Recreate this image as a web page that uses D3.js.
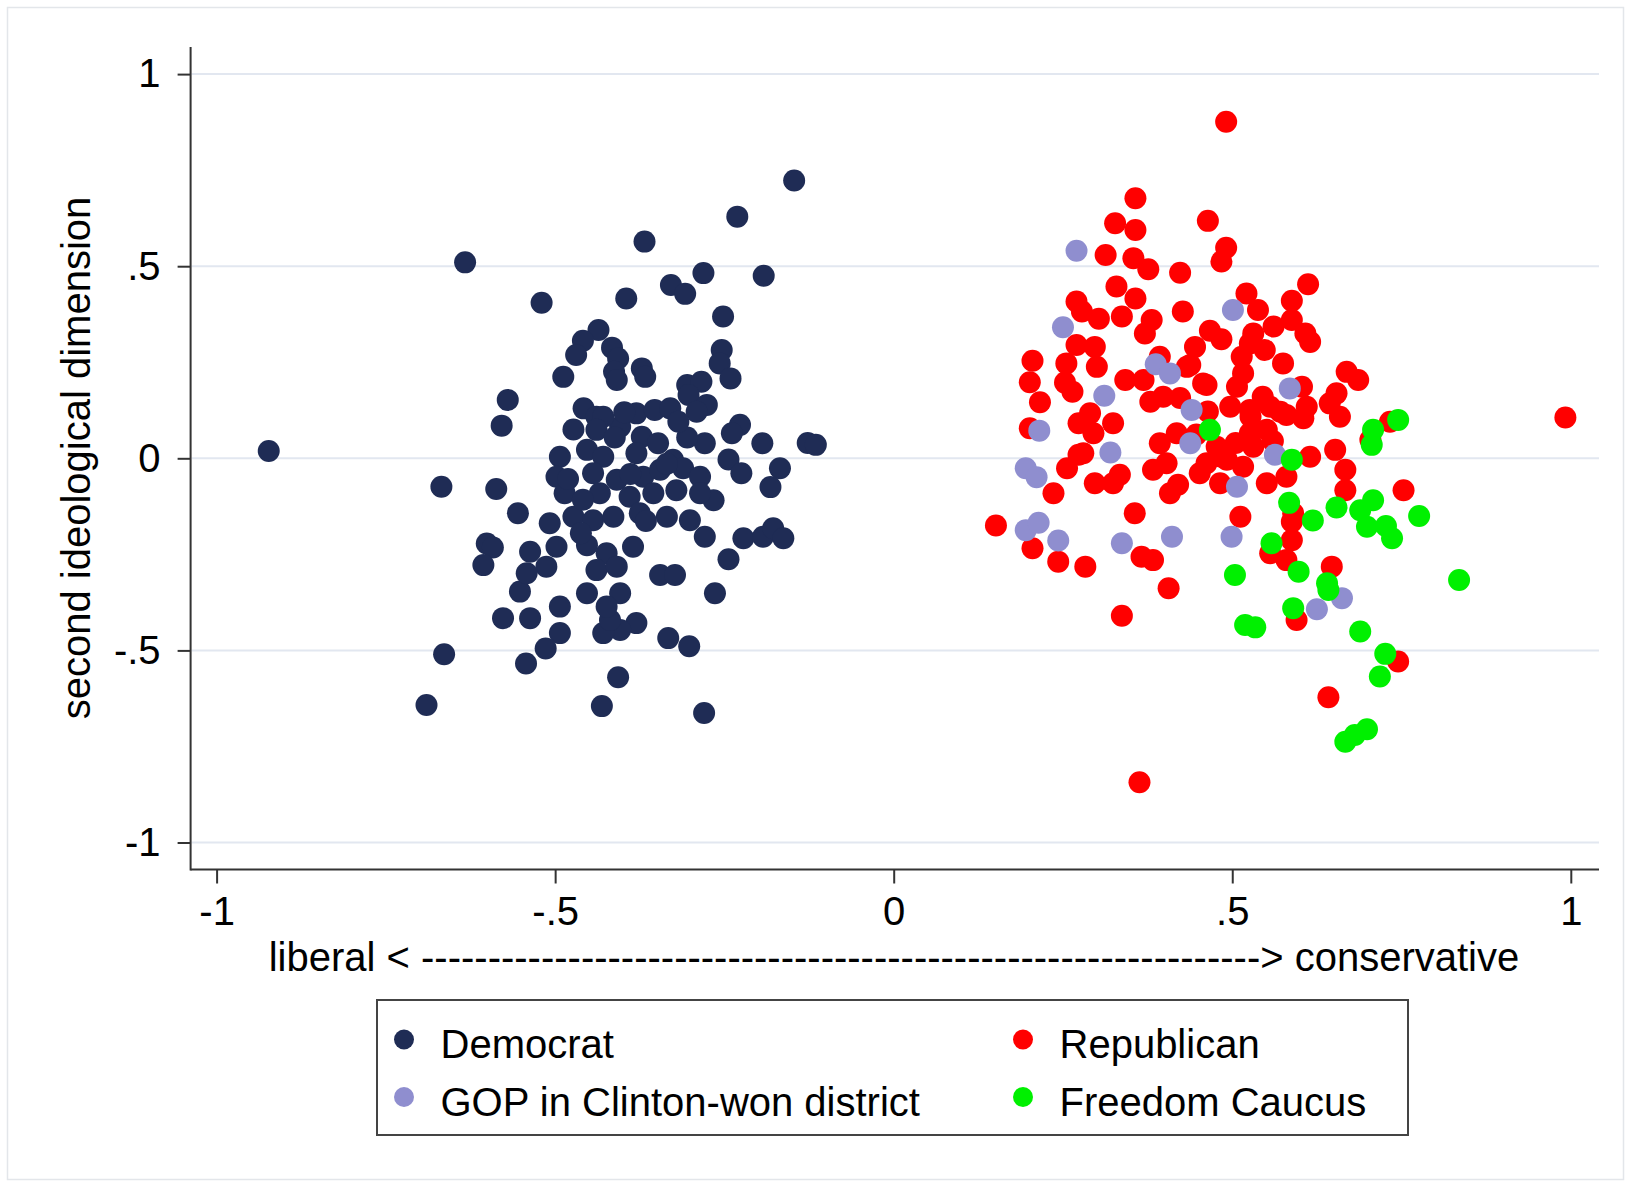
<!DOCTYPE html>
<html>
<head>
<meta charset="utf-8">
<script src="https://cdn.jsdelivr.net/npm/d3@7"></script>
<style>
body { margin: 0; background: #fff; }
text { font-family: "Liberation Sans", Arial, Helvetica, sans-serif; fill: #000; }
</style>
</head>
<body>
<div class="chart"></div>
<script>
// [first dimension, second dimension]
var democrat = [
  [-0.923,0.019],[-0.633,0.510],[-0.520,0.405],[-0.436,0.334],[-0.395,0.416],[-0.459,0.306],[-0.469,0.269],
  [-0.416,0.288],[-0.407,0.260],[-0.413,0.225],[-0.488,0.212],[-0.570,0.152],[-0.579,0.085],[-0.458,0.130],
  [-0.439,0.108],[-0.473,0.075],[-0.404,0.082],[-0.147,0.723],[-0.231,0.629],[-0.368,0.564],[-0.281,0.482],
  [-0.192,0.475],[-0.329,0.451],[-0.308,0.428],[-0.252,0.369],[-0.372,0.234],[-0.367,0.212],[-0.254,0.282],
  [-0.257,0.247],[-0.241,0.208],[-0.305,0.191],[-0.284,0.199],[-0.303,0.165],[-0.276,0.139],[-0.291,0.121],
  [-0.380,0.117],[-0.353,0.126],[-0.330,0.130],[-0.429,0.108],[-0.372,0.056],[-0.348,0.039],[-0.227,0.087],
  [-0.239,0.065],[-0.279,0.039],[-0.194,0.039],[-0.127,0.040],[-0.244,-0.003],[-0.225,-0.039],[-0.168,-0.026],
  [-0.182,-0.075],[-0.279,-0.204],[-0.222,-0.208],[-0.193,-0.204],[-0.178,-0.182],[-0.163,-0.208],[-0.244,-0.263],
  [-0.345,-0.304],[-0.323,-0.304],[-0.264,-0.351],[-0.385,-0.230],[-0.404,-0.351],[-0.380,-0.429],[-0.404,-0.447],
  [-0.429,-0.455],[-0.419,-0.421],[-0.333,-0.468],[-0.302,-0.489],[-0.407,-0.570],[-0.431,-0.645],[-0.280,-0.663],
  [-0.668,-0.074],[-0.587,-0.080],[-0.555,-0.143],[-0.601,-0.222],[-0.592,-0.232],[-0.606,-0.278],[-0.537,-0.243],
  [-0.508,-0.169],[-0.552,-0.347],[-0.577,-0.416],[-0.537,-0.416],[-0.493,-0.386],[-0.493,-0.455],[-0.514,-0.495],
  [-0.543,-0.534],[-0.664,-0.510],[-0.690,-0.642],[-0.453,-0.351],[-0.453,-0.226],[-0.493,0.004],[-0.498,-0.048],
  [-0.486,-0.091],[-0.115,0.035],[-0.409,0.204],[-0.439,0.074],[-0.453,0.022],[-0.429,0.004],[-0.380,0.013],
  [-0.326,-0.004],[-0.444,-0.039],[-0.409,-0.056],[-0.370,-0.048],[-0.345,-0.030],[-0.311,-0.026],[-0.286,-0.048],
  [-0.434,-0.091],[-0.390,-0.100],[-0.355,-0.091],[-0.321,-0.083],[-0.266,-0.109],[-0.286,-0.091],[-0.473,-0.152],
  [-0.444,-0.161],[-0.414,-0.152],[-0.375,-0.143],[-0.335,-0.152],[-0.301,-0.161],[-0.498,-0.230],[-0.424,-0.247],
  [-0.513,-0.282],[-0.542,-0.299],[-0.439,-0.291],[-0.409,-0.282],[-0.424,-0.386],
  [-0.412,0.054],[-0.335,-0.014],[-0.459,-0.108],[-0.366,-0.163],[-0.389,-0.041],[-0.305,0.054],[-0.481,-0.054],
  [-0.398,0.120],[-0.318,0.095],[-0.462,-0.195]
];

var republican = [
  [0.357,0.677],[0.327,0.612],[0.357,0.594],[0.313,0.529],[0.354,0.521],[0.376,0.492],[0.423,0.483],[0.329,0.447],
  [0.357,0.416],[0.270,0.408],[0.278,0.382],[0.303,0.363],[0.337,0.369],[0.381,0.360],[0.371,0.325],[0.427,0.382],
  [0.270,0.295],[0.297,0.290],[0.255,0.247],[0.300,0.238],[0.205,0.254],[0.201,0.198],[0.253,0.197],[0.264,0.173],
  [0.216,0.146],[0.342,0.204],[0.369,0.204],[0.393,0.264],[0.379,0.147],[0.423,0.157],[0.201,0.078],[0.273,0.091],
  [0.290,0.117],[0.324,0.091],[0.295,0.065],[0.491,0.876],[0.464,0.618],[0.491,0.548],[0.484,0.512],[0.612,0.453],
  [0.521,0.429],[0.588,0.410],[0.538,0.386],[0.467,0.332],[0.484,0.310],[0.531,0.325],[0.561,0.343],[0.588,0.360],
  [0.608,0.325],[0.615,0.303],[0.526,0.299],[0.548,0.282],[0.445,0.290],[0.514,0.264],[0.575,0.247],[0.433,0.238],
  [0.457,0.195],[0.516,0.221],[0.507,0.186],[0.669,0.225],[0.686,0.204],[0.654,0.169],[0.644,0.143],[0.659,0.108],
  [0.603,0.186],[0.610,0.134],[0.605,0.104],[0.497,0.134],[0.526,0.126],[0.556,0.134],[0.580,0.113],[0.526,0.065],
  [0.551,0.074],[0.418,0.065],[0.733,0.095],[0.438,0.243],[0.398,0.160],[0.462,0.191],[0.571,0.121],[0.393,0.039],
  [0.477,0.030],[0.492,-0.004],[0.531,0.030],[0.280,0.013],[0.383,-0.030],[0.403,-0.013],[0.334,-0.043],[0.297,-0.065],
  [0.324,-0.065],[0.408,-0.091],[0.420,-0.069],[0.452,-0.039],[0.482,-0.065],[0.462,-0.013],[0.516,-0.022],[0.551,-0.065],
  [0.580,-0.048],[0.356,-0.143],[0.512,-0.152],[0.590,-0.143],[0.273,0.009],[0.256,-0.026],[0.236,-0.091],[0.151,-0.175],
  [0.205,-0.234],[0.243,-0.269],[0.283,-0.282],[0.366,-0.256],[0.383,-0.265],[0.406,-0.338],[0.337,-0.410],[0.652,0.022],
  [0.615,0.004],[0.667,-0.030],[0.667,-0.083],[0.753,-0.083],[0.588,-0.165],[0.588,-0.213],[0.556,-0.247],[0.580,-0.265],
  [0.647,-0.282],[0.595,-0.421],[0.745,-0.529],[0.642,-0.622],[0.704,0.048],[0.992,0.106],[0.363,-0.843],[0.484,0.004],
  [0.527,0.108],[0.464,0.122],[0.545,0.160],[0.447,0.062],[0.505,0.040],[0.560,0.045]
];

var gopClinton = [
  [0.270,0.540],[0.250,0.341],[0.387,0.245],[0.408,0.221],[0.311,0.163],[0.215,0.072],[0.501,0.386],[0.585,0.182],
  [0.440,0.126],[0.438,0.039],[0.320,0.015],[0.563,0.009],[0.507,-0.074],[0.195,-0.026],[0.211,-0.049],[0.195,-0.187],
  [0.214,-0.168],[0.243,-0.214],[0.337,-0.221],[0.411,-0.204],[0.499,-0.204],[0.625,-0.393],[0.662,-0.364]
];

var freedomCaucus = [
  [0.467,0.074],[0.708,0.074],[0.745,0.100],[0.706,0.035],[0.588,-0.004],[0.584,-0.116],[0.619,-0.162],[0.654,-0.128],
  [0.689,-0.135],[0.708,-0.109],[0.699,-0.178],[0.727,-0.176],[0.736,-0.208],[0.776,-0.150],[0.558,-0.221],[0.598,-0.295],
  [0.640,-0.325],[0.642,-0.343],[0.504,-0.304],[0.590,-0.390],[0.519,-0.434],[0.534,-0.440],[0.689,-0.451],[0.726,-0.509],
  [0.718,-0.568],[0.667,-0.738],[0.681,-0.720],[0.699,-0.705],[0.835,-0.317]
];

var groupNames = ["Democrat", "Republican", "GOP in Clinton-won district", "Freedom Caucus"];
var groupColors = ["#1f2c55", "#ff0000", "#8f8ecf", "#00f000"];

var xTicks = [-1, -0.5, 0, 0.5, 1];
var xTickLabels = ["-1", "-.5", "0", ".5", "1"];
var yTicks = [1, 0.5, 0, -0.5, -1];
var yTickLabels = ["1", ".5", "0", "-.5", "-1"];

var xTitle = "liberal < " + "-".repeat(63) + "> conservative";
var yTitle = "second ideological dimension";

var width = 1631;
var height = 1185;

var plotLeft = 190.6, plotRight = 1599, plotTop = 47, plotBottom = 869.5;

var svg = d3.select("div.chart")
  .append("svg")
  .attr("width", width)
  .attr("height", height);

// faint frame round the whole graph
svg.append("rect")
  .attr("x", 7.5).attr("y", 7.5)
  .attr("width", 1616).attr("height", 1172)
  .attr("fill", "none")
  .attr("stroke", "#e3e6ea")
  .attr("stroke-width", 1.5);

var x = d3.scaleLinear().domain([-1, 1]).range([216.6, 1570.8]);
var y = d3.scaleLinear().domain([-1, 1]).range([842.5, 74.1]);

// gridlines
svg.append("g").selectAll("line")
  .data(yTicks)
  .enter()
  .append("line")
  .attr("x1", plotLeft + 1).attr("x2", plotRight)
  .attr("y1", (d) => y(d)).attr("y2", (d) => y(d))
  .attr("stroke", "#e2e7f0")
  .attr("stroke-width", 2);

// axes
var yAxis = svg.append("g")
  .attr("transform", "translate(" + plotLeft + ",0)")
  .call(d3.axisLeft(y)
    .tickValues(yTicks)
    .tickFormat((d, i) => yTickLabels[i])
    .tickSize(13)
    .tickPadding(17));

var xAxis = svg.append("g")
  .attr("transform", "translate(0," + plotBottom + ")")
  .call(d3.axisBottom(x)
    .tickValues(xTicks)
    .tickFormat((d, i) => xTickLabels[i])
    .tickSize(14)
    .tickPadding(13));

[yAxis, xAxis].forEach((g) => {
  g.select(".domain").remove();
  g.selectAll(".tick line").attr("stroke", "#333").attr("stroke-width", 2);
  g.selectAll(".tick text")
    .attr("fill", "#000")
    .style("font-size", "40px")
    .style("font-family", "'Liberation Sans', Arial, sans-serif");
});

svg.append("line")
  .attr("x1", plotLeft).attr("x2", plotLeft)
  .attr("y1", plotTop).attr("y2", plotBottom + 1)
  .attr("stroke", "#333").attr("stroke-width", 2);

svg.append("line")
  .attr("x1", plotLeft).attr("x2", plotRight)
  .attr("y1", plotBottom).attr("y2", plotBottom)
  .attr("stroke", "#333").attr("stroke-width", 2);

// axis titles
svg.append("text")
  .attr("x", 894)
  .attr("y", 971)
  .attr("text-anchor", "middle")
  .style("font-size", "40px")
  .text(xTitle);

svg.append("text")
  .attr("transform", "translate(90,458) rotate(-90)")
  .attr("text-anchor", "middle")
  .style("font-size", "40px")
  .text(yTitle);

// points: Democrats, Republicans, then the two GOP subgroups on top
var groups = [democrat, republican, gopClinton, freedomCaucus];

groups.forEach((pts, gi) => {
  svg.append("g").selectAll("circle")
    .data(pts)
    .enter()
    .append("circle")
    .attr("cx", (d) => x(d[0]))
    .attr("cy", (d) => y(d[1]))
    .attr("r", 11)
    .attr("fill", groupColors[gi]);
});

// legend
var legend = svg.append("g");

legend.append("rect")
  .attr("x", 377).attr("y", 1000)
  .attr("width", 1031).attr("height", 135)
  .attr("fill", "none")
  .attr("stroke", "#444")
  .attr("stroke-width", 2);

var legendCol = [404, 1023];
var legendRow = [1039.5, 1097];

var item = legend.selectAll("g.item")
  .data(groupNames)
  .enter()
  .append("g")
  .attr("class", "item")
  .attr("transform", (d, i) => "translate(" + legendCol[i % 2] + "," + legendRow[Math.floor(i / 2)] + ")");

item.append("circle")
  .attr("r", 10)
  .attr("fill", (d, i) => groupColors[i]);

item.append("text")
  .attr("x", 36.5)
  .attr("y", 18.5)
  .style("font-size", "40px")
  .text((d) => d);
</script>
</body>
</html>
